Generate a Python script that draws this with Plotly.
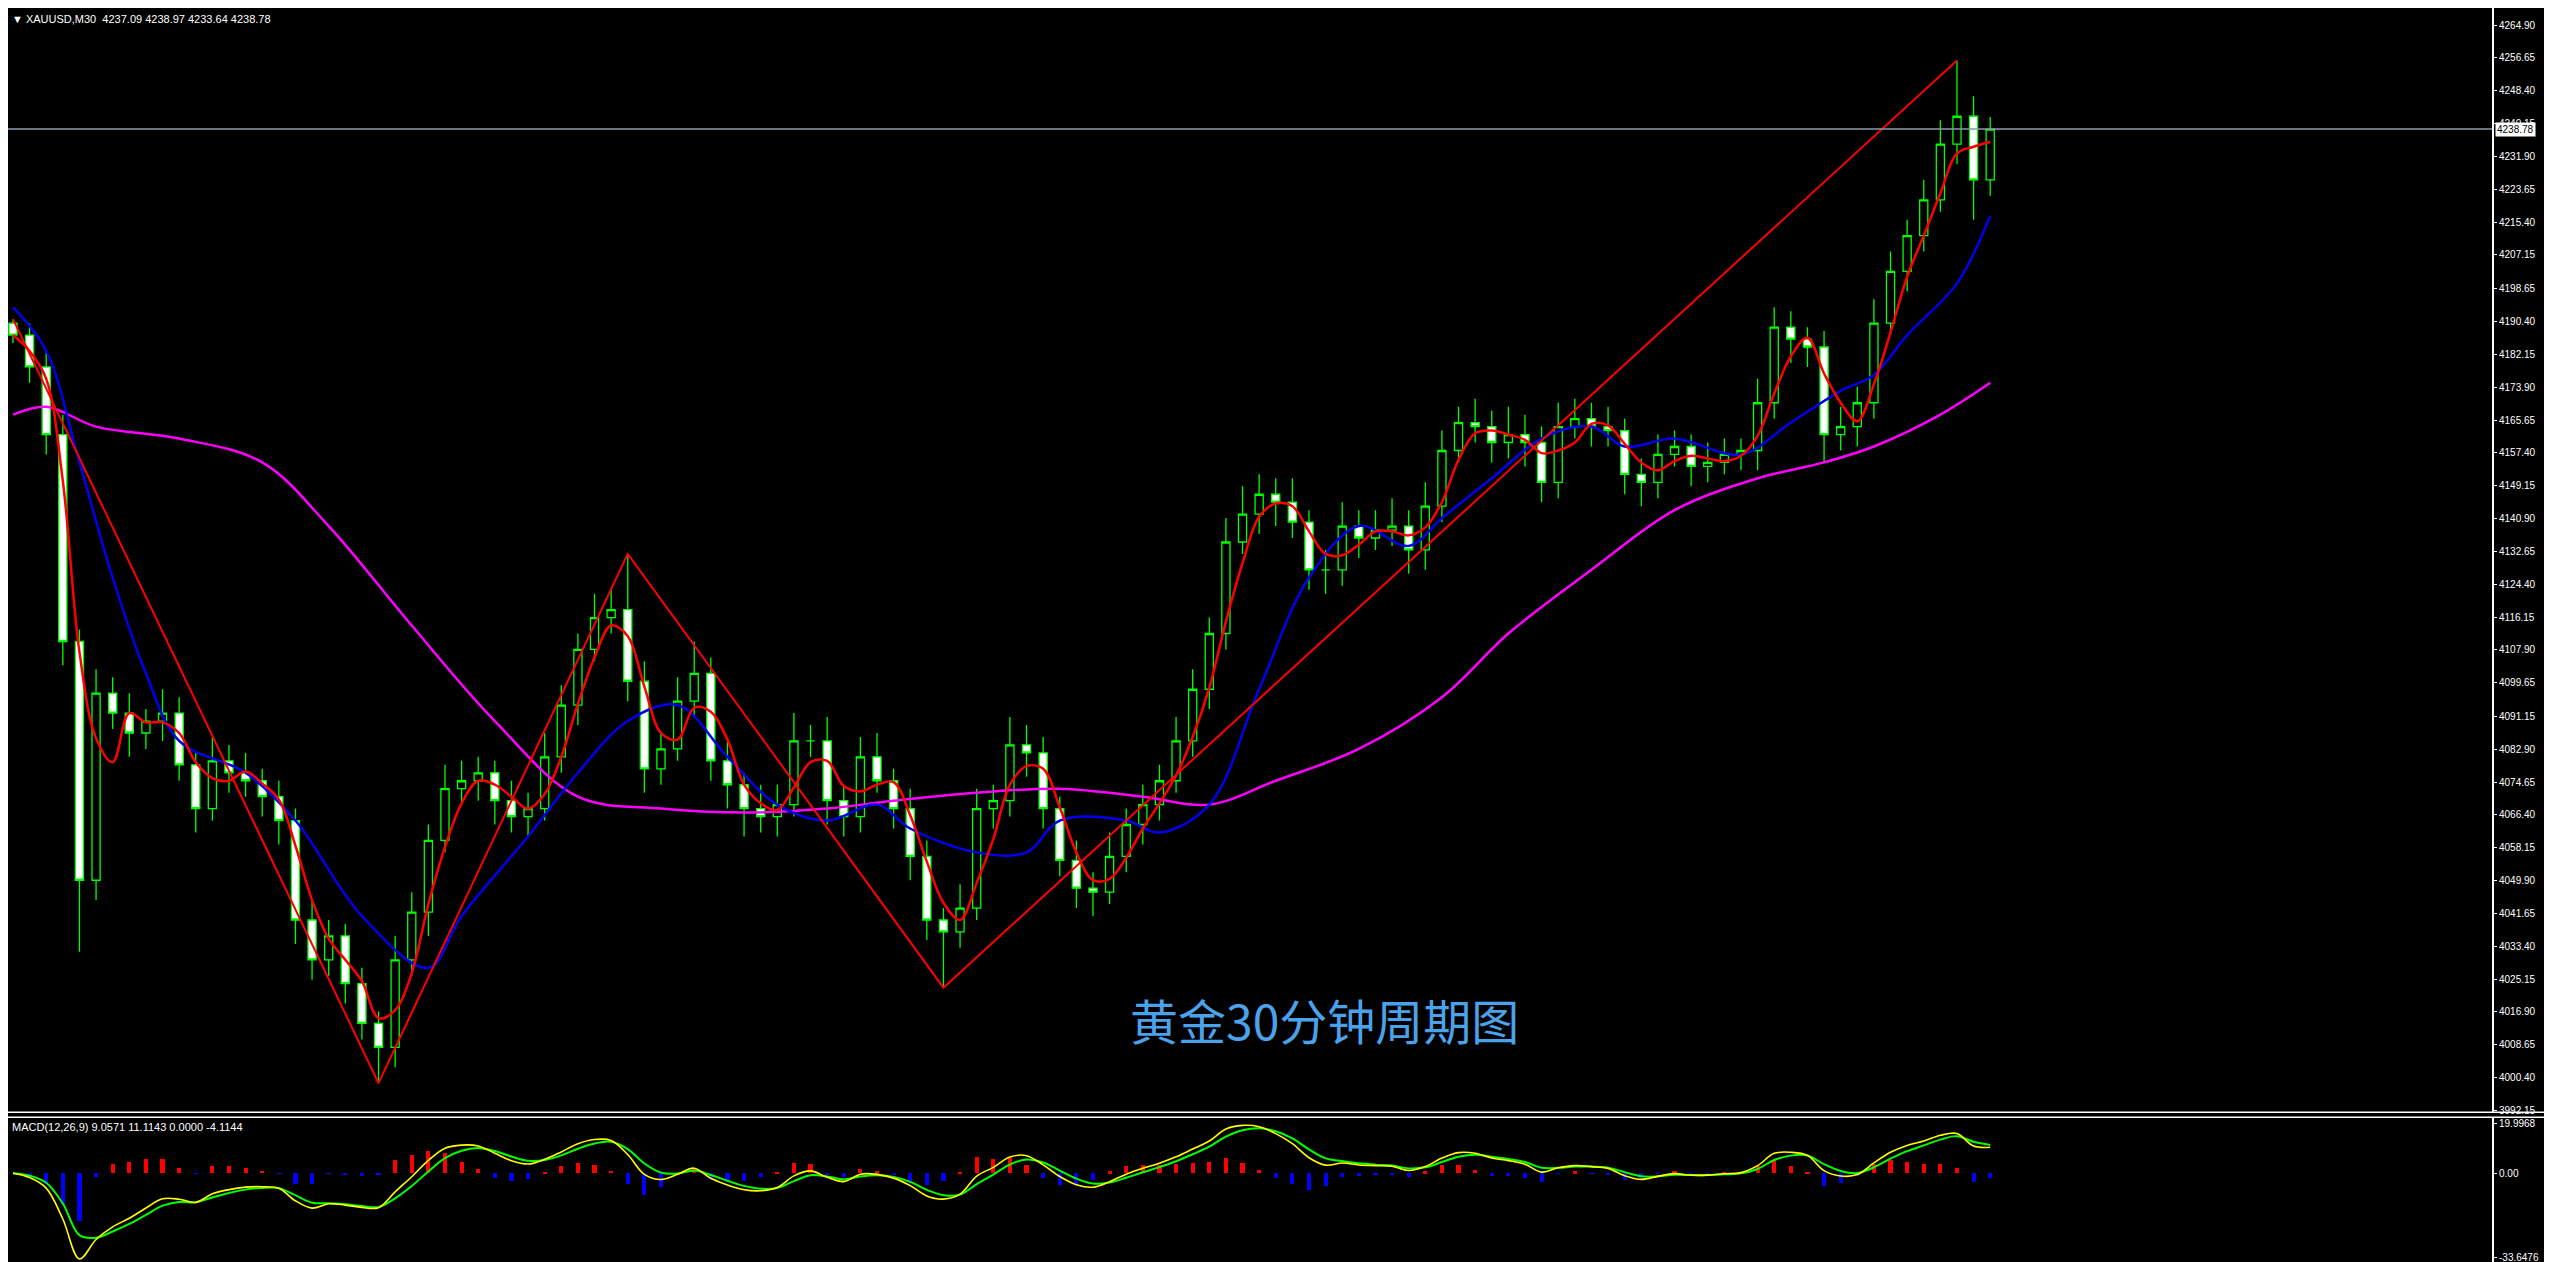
import numpy as np
import pandas as pd
import plotly.graph_objects as go

closes = [4187,4179,4162,4110,4050,4097,4092,4087,4090,4092,
          4079,4068,4080,4077,4075,4071,4065,4040,4030,4036,
          4024,4014,4008,4030,4042,4060,4073,4075,4077,4070,
          4066,4068,4081,4094,4108,4116,4118,4100,4078,4083,
          4095,4102,4080,4074,4068,4066,4069,4085,4085,4070,
          4066,4081,4075,4068,4056,4040,4037,4043,4068,4070,
          4084,4082,4068,4055,4048,4047,4056,4064,4069,4075,
          4085,4098,4112,4135,4142,4147,4145,4140,4128,4128,
          4139,4136,4138,4139,4133,4144,4158,4165,4164,4160,
          4162,4160,4150,4164,4166,4164,4163,4152,4150,4157,
          4159,4154,4155,4157,4158,4170,4189,4186,4184,4162,
          4164,4170,4190,4203,4212,4221,4235,4242,4226,4238.78]
first_open = 4190
upper_wick = [1,3,4,5,3,6,4,5,3,6, 4,3,6,4,5,3,4,3,5,4, 3,4,3,6,5,4,6,5,4,3,
              5,4,6,5,4,6,5,14,5,4, 6,8,4,5,3,6,5,7,4,6, 4,5,6,3,5,4,3,6,5,4,
              7,5,4,3,5,4,6,4,5,4, 6,5,4,6,7,5,4,6,3,5, 6,4,5,7,4,6,5,4,6,4,
              7,5,4,6,5,4,5,3,4,5, 4,3,5,4,3,6,5,4,3,4, 5,4,6,5,4,5,6,14,5,3]
lower_wick = [2,4,5,6,18,5,4,6,4,5, 4,6,3,5,4,5,6,6,5,4, 5,4,9,5,4,6,3,4,5,6,
              4,5,3,4,5,3,4,5,6,4, 3,4,5,6,7,4,5,3,4,6, 5,4,3,5,6,5,14,4,3,5,
              4,6,5,4,5,6,3,4,5,4, 3,4,5,4,3,5,6,4,5,6, 4,5,3,4,6,5,4,3,4,5,
              4,6,5,4,3,5,4,5,6,4, 3,5,4,3,4,5,4,6,5,7, 4,5,4,3,5,4,3,5,10,4]

blue_idx = [0,2,4,6,8,10,14,17,21,25,27,31,34,37,40,43,46,49,52,54,58,61,63,67,69,72,75,78,81,84,86,89,92,95,97,100,104,107,110,112,114,117,119]
blue_val = [4194,4183,4155,4126,4102,4085,4077,4065,4041,4028,4041,4061,4077,4090,4094,4081,4069,4065,4069,4063,4057,4057,4065,4065,4062,4069,4098,4126,4139,4134,4141,4151,4161,4164,4159,4161,4157,4165,4173,4177,4187,4200,4217]
mag_idx = [0,2,5,10,15,19,24,29,34,39,44,49,53,58,63,68,72,76,81,86,90,95,100,105,109,112,116,119]
mag_val = [4167,4169,4164,4161,4155,4139,4114,4090,4071,4068,4067,4068,4070,4072,4073,4071,4069,4075,4083,4096,4112,4128,4143,4151,4155,4159,4167,4175]
zig_idx = [0,22,37,56,117]

price_ticks = [4264.90,4256.65,4248.40,4240.15,4231.90,4223.65,4215.40,4207.15,4198.65,4190.40,
               4182.15,4173.90,4165.65,4157.40,4149.15,4140.90,4132.65,4124.40,4116.15,4107.90,
               4099.65,4091.15,4082.90,4074.65,4066.40,4058.15,4049.90,4041.65,4033.40,4025.15,
               4016.90,4008.65,4000.40,3992.15]
macd_ticks = [19.9968, 0.0, -33.6476]
macd_tick_text = ["19.9968", "0.00", "-33.6476"]
last_price = 4238.78
title_text = "XAUUSD,M30  4237.09 4238.97 4233.64 4238.78"
macd_text = "MACD(12,26,9) 9.0571 11.1143 0.0000 -4.1144"
caption = "黄金30分钟周期图"

n = len(closes)
x = np.arange(n)
c = np.array(closes, float)
o = np.concatenate([[first_open], c[:-1]])
h = np.maximum(o, c) + np.array(upper_wick)
l = np.minimum(o, c) - np.array(lower_wick)
s = pd.Series(c)
red_ma = s.rolling(3, min_periods=1).mean()
ema_f = s.ewm(span=3.3, adjust=False).mean()
ema_s = s.ewm(span=7.1, adjust=False).mean()
macd = ema_f - ema_s
sig = macd.ewm(span=2.5, adjust=False).mean()
hist = macd - sig

zig_y = [h[0], l[22], h[37], l[56], h[117]]

fig = go.Figure()
fig.add_trace(go.Candlestick(x=x, open=o, high=h, low=l, close=c, yaxis="y",
    increasing=dict(line=dict(color="#00ff00", width=1.3), fillcolor="#000000"),
    decreasing=dict(line=dict(color="#00ff00", width=1.3), fillcolor="#ffffff"),
    whiskerwidth=0, showlegend=False))
fig.add_trace(go.Scatter(x=mag_idx, y=mag_val, mode="lines", line=dict(color="#ff00ff", width=2.5, shape="spline"), showlegend=False))
fig.add_trace(go.Scatter(x=blue_idx, y=blue_val, mode="lines", line=dict(color="#0000ee", width=2.5, shape="spline"), showlegend=False))
fig.add_trace(go.Scatter(x=x, y=red_ma, mode="lines", line=dict(color="#ff0000", width=2.5, shape="spline"), showlegend=False))
fig.add_trace(go.Scatter(x=zig_idx, y=zig_y, mode="lines", line=dict(color="#ff0000", width=2), showlegend=False))

fig.add_trace(go.Bar(x=x, y=hist*2, yaxis="y2", marker=dict(color=["#ff0000" if v > 0 else "#0000ff" for v in hist], line_width=0),
                     width=0.25, showlegend=False))
fig.add_trace(go.Scatter(x=x, y=sig, yaxis="y2", mode="lines", line=dict(color="#00ff00", width=2, shape="spline"), showlegend=False))
fig.add_trace(go.Scatter(x=x, y=macd, yaxis="y2", mode="lines", line=dict(color="#ffff00", width=1.6, shape="spline"), showlegend=False))

W, H = 2536, 1262
tickfont = dict(family="Liberation Sans", size=10, color="#ffffff")
fig.update_layout(
    width=W, height=H, paper_bgcolor="#000000", plot_bgcolor="#000000",
    margin=dict(l=0, r=52, t=0, b=0), bargap=0,
    font=dict(family="Liberation Sans", color="#ffffff", size=11),
    xaxis=dict(range=[-0.3, 149.2], showgrid=False, zeroline=False, showticklabels=False,
               rangeslider=dict(visible=False), fixedrange=True),
    yaxis=dict(domain=[0.122, 1], range=[3991.4, 4269.2], side="right", tickvals=price_ticks,
               ticktext=[f"{v:.2f}" for v in price_ticks], showgrid=False, zeroline=False, tickfont=tickfont,
               showline=True, linecolor="#ffffff", linewidth=2, ticks="outside", ticklen=3, tickcolor="#ffffff"),
    yaxis2=dict(domain=[0.003, 0.119], range=[-36.0, 22.4], side="right", tickvals=macd_ticks,
                ticktext=macd_tick_text, showgrid=False, zeroline=False, tickfont=tickfont,
                showline=True, linecolor="#ffffff", linewidth=2, ticks="outside", ticklen=3, tickcolor="#ffffff"),
)
fig.add_hline(y=last_price, line=dict(color="#8a9aa8", width=1.5), yref="y")
fig.add_annotation(x=1, xref="paper", xanchor="left", y=last_price, yref="y", text=f"{last_price:.2f}",
                   showarrow=False, bgcolor="#ffffff", font=dict(color="#000000", size=10, family="Liberation Sans"),
                   xshift=3, borderpad=1)
for yy in [1 - 1107/H, 1 - 1112/H]:
    fig.add_shape(type="line", xref="paper", yref="paper", x0=0, x1=1.022, y0=yy, y1=yy, line=dict(color="#ffffff", width=1.5))
fig.add_annotation(x=0.001, xref="paper", y=1 - 3/H, yref="paper", xanchor="left", yanchor="top", showarrow=False,
                   text="▼ " + title_text, font=dict(size=11, color="#ffffff"))
fig.add_annotation(x=0.001, xref="paper", y=1 - 1114/H, yref="paper", xanchor="left", yanchor="top", showarrow=False,
                   text=macd_text, font=dict(size=11, color="#ffffff"))
fig.add_annotation(x=0.53, xref="paper", y=1 - 1050/H, yref="paper", showarrow=False, text=caption,
                   font=dict(family="Noto Sans CJK SC", size=48, color="#4aa3ea"))
fig.write_html("out.html")
